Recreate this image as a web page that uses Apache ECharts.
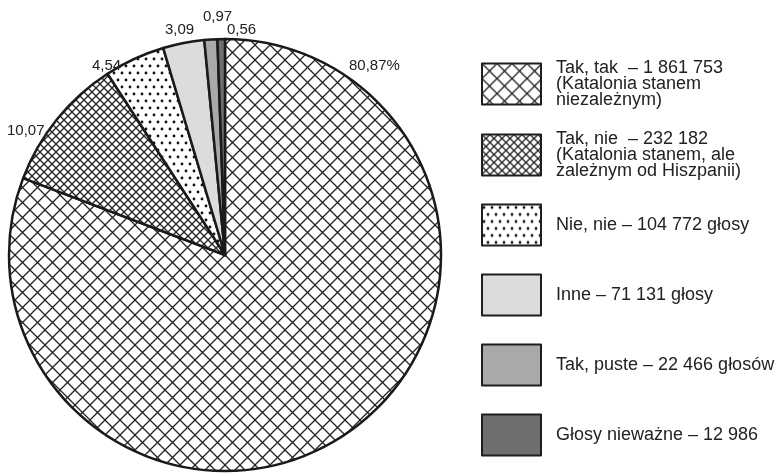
<!DOCTYPE html>
<html>
<head>
<meta charset="utf-8">
<script src="https://cdn.jsdelivr.net/npm/echarts@6/dist/echarts.min.js"></script>
<style>
html,body{margin:0;padding:0;background:#fff;}
#chart{width:776px;height:473px;}
</style>
</head>
<body>
<div id="chart"></div>
<script>
// ---- data ----
var categories = [
  'Tak, tak  – 1 861 753\n(Katalonia stanem\nniezależnym)',
  'Tak, nie  – 232 182\n(Katalonia stanem, ale\nzależnym od Hiszpanii)',
  'Nie, nie – 104 772 głosy',
  'Inne – 71 131 głosy',
  'Tak, puste – 22 466 głosów',
  'Głosy nieważne – 12 986'
];
var percentValues = [80.87, 10.07, 4.54, 3.09, 0.97, 0.56];
var labelSuffix = ['%', '', '', '', '', ''];

// ---- label placement (text positions, not marks) ----
var labelX = [349, 7, 92, 165, 203, 227];
var labelY = [66, 131, 66, 30, 17, 30];
var legendCenters = [83, 154, 224, 294, 364, 434];

function crossHatch(size, color) {
  var c = document.createElement('canvas');
  c.width = size; c.height = size;
  var g = c.getContext('2d');
  g.fillStyle = '#fff'; g.fillRect(0, 0, size, size);
  g.strokeStyle = color; g.lineWidth = 1.3;
  g.beginPath();
  g.moveTo(-2, -2); g.lineTo(size + 2, size + 2);
  g.moveTo(size + 2, -2); g.lineTo(-2, size + 2);
  g.stroke();
  return c;
}
function dots() {
  var w = 8, h = 14;
  var c = document.createElement('canvas');
  c.width = w; c.height = h;
  var g = c.getContext('2d');
  g.fillStyle = '#fff'; g.fillRect(0, 0, w, h);
  g.fillStyle = '#111';
  g.beginPath(); g.arc(2, 3, 1.4, 0, Math.PI * 2); g.fill();
  g.beginPath(); g.arc(6, 10, 1.4, 0, Math.PI * 2); g.fill();
  return c;
}

var fills = [
  { image: crossHatch(15, '#222'), repeat: 'repeat' },
  { image: crossHatch(8, '#222'), repeat: 'repeat' },
  { image: dots(), repeat: 'repeat' },
  '#dcdcdc',
  '#a9a9a9',
  '#6f6f6f'
];

var pieData = categories.map(function (n, i) {
  return { name: n, value: percentValues[i], itemStyle: { color: fills[i] } };
});

var legends = categories.map(function (n, i) {
  var lines = n.split('\n').length;
  var h = Math.max(41, lines * 16);
  return {
    data: [n],
    orient: 'vertical',
    left: 481,
    top: legendCenters[i] - h / 2,
    padding: 0,
    icon: 'rect',
    itemWidth: 59,
    itemHeight: 41,
    selectedMode: false,
    itemStyle: { borderColor: '#1e1e1e', borderWidth: 2 },
    textStyle: {
      fontFamily: 'Liberation Sans, Arial, sans-serif',
      fontSize: 18,
      lineHeight: 16,
      color: '#222',
      padding: [0, 0, 0, 10]
    }
  };
});

var chart = echarts.init(document.getElementById('chart'), null, { renderer: 'canvas' });
chart.setOption({
  backgroundColor: '#fff',
  animation: false,
  legend: legends,
  series: [{
    type: 'pie',
    center: [225, 255],
    radius: 216,
    startAngle: 90,
    clockwise: true,
    avoidLabelOverlap: false,
    data: pieData,
    itemStyle: { borderColor: '#1a1a1a', borderWidth: 2.5 },
    emphasis: { disabled: true },
    label: {
      show: true,
      position: 'outside',
      fontFamily: 'Liberation Sans, Arial, sans-serif',
      fontSize: 15,
      color: '#222',
      formatter: function (p) {
        return p.value.toFixed(2).replace('.', ',') + labelSuffix[p.dataIndex];
      }
    },
    labelLine: { show: false },
    labelLayout: function (p) {
      return {
        x: labelX[p.dataIndex],
        y: labelY[p.dataIndex],
        align: 'left',
        verticalAlign: 'middle'
      };
    }
  }]
});
</script>
</body>
</html>
